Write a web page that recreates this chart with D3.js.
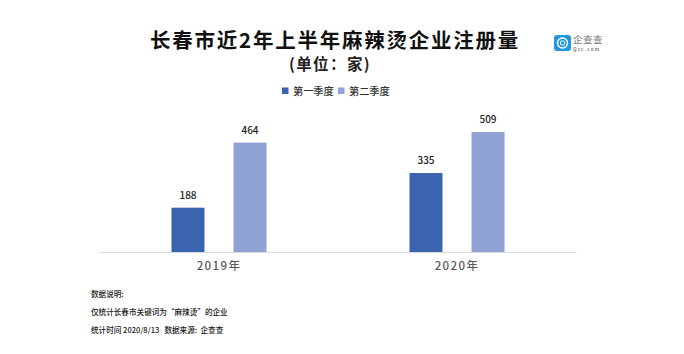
<!DOCTYPE html>
<html>
<head>
<meta charset="utf-8">
<script src="https://cdn.jsdelivr.net/npm/d3@7"></script>
<style>
html, body { margin: 0; padding: 0; background: #fff; }
text { font-family: "Noto Sans CJK SC", "Noto Sans", sans-serif; white-space: pre; }
</style>
</head>
<body>
<script>
// data
var years = ["2019年", "2020年"];
var seriesNames = ["第一季度", "第二季度"];
var q1 = [188, 335];
var q2 = [464, 509];
var notes = ["数据说明:", "仅统计长春市关键词为“麻辣烫”的企业", "统计时间 2020/8/13   数据来源:  企查查"];
var colors = ["#3b64ae", "#8fa2d4"];

var svg = d3.select("body").append("svg")
    .attr("width", 684)
    .attr("height", 354)
    .style("display", "block");

// scales
var xScale = d3.scaleBand().domain(years).range([100, 576]);
var serScale = d3.scaleBand().domain(seriesNames)
    .range([0, xScale.bandwidth()]).paddingInner(0.468).paddingOuter(1.153);
var yScale = d3.scaleLinear().domain([0, 509]).range([252, 132]);

// title
svg.append("text")
    .attr("x", 335).attr("y", 48)
    .attr("text-anchor", "middle")
    .attr("font-size", 20.5).attr("font-weight", 700)
    .attr("letter-spacing", 1.75)
    .attr("fill", "#111")
    .text("长春市近2年上半年麻辣烫企业注册量");
svg.append("text")
    .attr("x", 330).attr("y", 70)
    .attr("text-anchor", "middle")
    .attr("font-size", 15.5).attr("font-weight", 700)
    .attr("letter-spacing", 1.4)
    .attr("fill", "#222")
    .text("(单位：家)");

// logo
var logo = svg.append("g");
logo.append("rect").attr("x", 554).attr("y", 35).attr("width", 17).attr("height", 16).attr("rx", 3).attr("fill", "#1f97e0");
logo.append("circle").attr("cx", 562.5).attr("cy", 43).attr("r", 5).attr("fill", "none").attr("stroke", "#fff").attr("stroke-width", 1.4);
logo.append("circle").attr("cx", 562.5).attr("cy", 43).attr("r", 2.2).attr("fill", "none").attr("stroke", "#fff").attr("stroke-width", 1);
logo.append("text").attr("x", 573).attr("y", 43).attr("font-size", 9.5).attr("letter-spacing", 0.5).attr("fill", "#777").text("企查查");
logo.append("text").attr("x", 573).attr("y", 51).attr("font-size", 4.5).attr("letter-spacing", 1.2).attr("font-weight", 700).attr("fill", "#777").text("Qcc.com");

// legend
var legendX = [282, 338];
seriesNames.forEach((name, i) => {
    svg.append("rect")
        .attr("x", legendX[i]).attr("y", 87.5)
        .attr("width", 6.5).attr("height", 6.5)
        .attr("fill", colors[i]);
    svg.append("text")
        .attr("x", legendX[i] + 11).attr("y", 95)
        .attr("font-size", 10.2)
        .attr("font-weight", 500)
        .attr("fill", "#333")
        .text(name);
});

// bars
[q1, q2].forEach((values, s) => {
    var g = svg.append("g");
    g.selectAll("rect")
        .data(values)
        .enter()
        .append("rect")
        .attr("x", (d, i) => xScale(years[i]) + serScale(seriesNames[s]))
        .attr("y", (d) => yScale(d))
        .attr("width", serScale.bandwidth())
        .attr("height", (d) => yScale(0) - yScale(d))
        .attr("fill", colors[s]);
    g.selectAll("text")
        .data(values)
        .enter()
        .append("text")
        .attr("x", (d, i) => xScale(years[i]) + serScale(seriesNames[s]) + serScale.bandwidth() / 2)
        .attr("y", (d) => yScale(d) - 9)
        .attr("text-anchor", "middle")
        .attr("font-size", 10)
        .attr("font-weight", 500)
        .attr("fill", "#222")
        .text((d) => d);
});

// x axis
var xAxis = svg.append("g")
    .attr("transform", "translate(0," + yScale(0) + ")")
    .call(d3.axisBottom(xScale).tickSize(0).tickPadding(10));
xAxis.select(".domain").attr("stroke", "#d9dce6").attr("stroke-width", 1);
xAxis.selectAll("text")
    .attr("font-family", '"Noto Sans CJK SC", sans-serif')
    .attr("font-size", 11.5)
    .attr("font-weight", 500)
    .attr("letter-spacing", 1.4)
    .attr("fill", "#595959");

// notes
var noteY = [297, 315, 333];
svg.selectAll(".note")
    .data(notes)
    .enter()
    .append("text")
    .classed("note", true)
    .attr("x", 91)
    .attr("y", (d, i) => noteY[i])
    .attr("font-size", 7.6)
    .attr("font-weight", 500)
    .attr("fill", "#222")
    .text((d) => d);
</script>
</body>
</html>
